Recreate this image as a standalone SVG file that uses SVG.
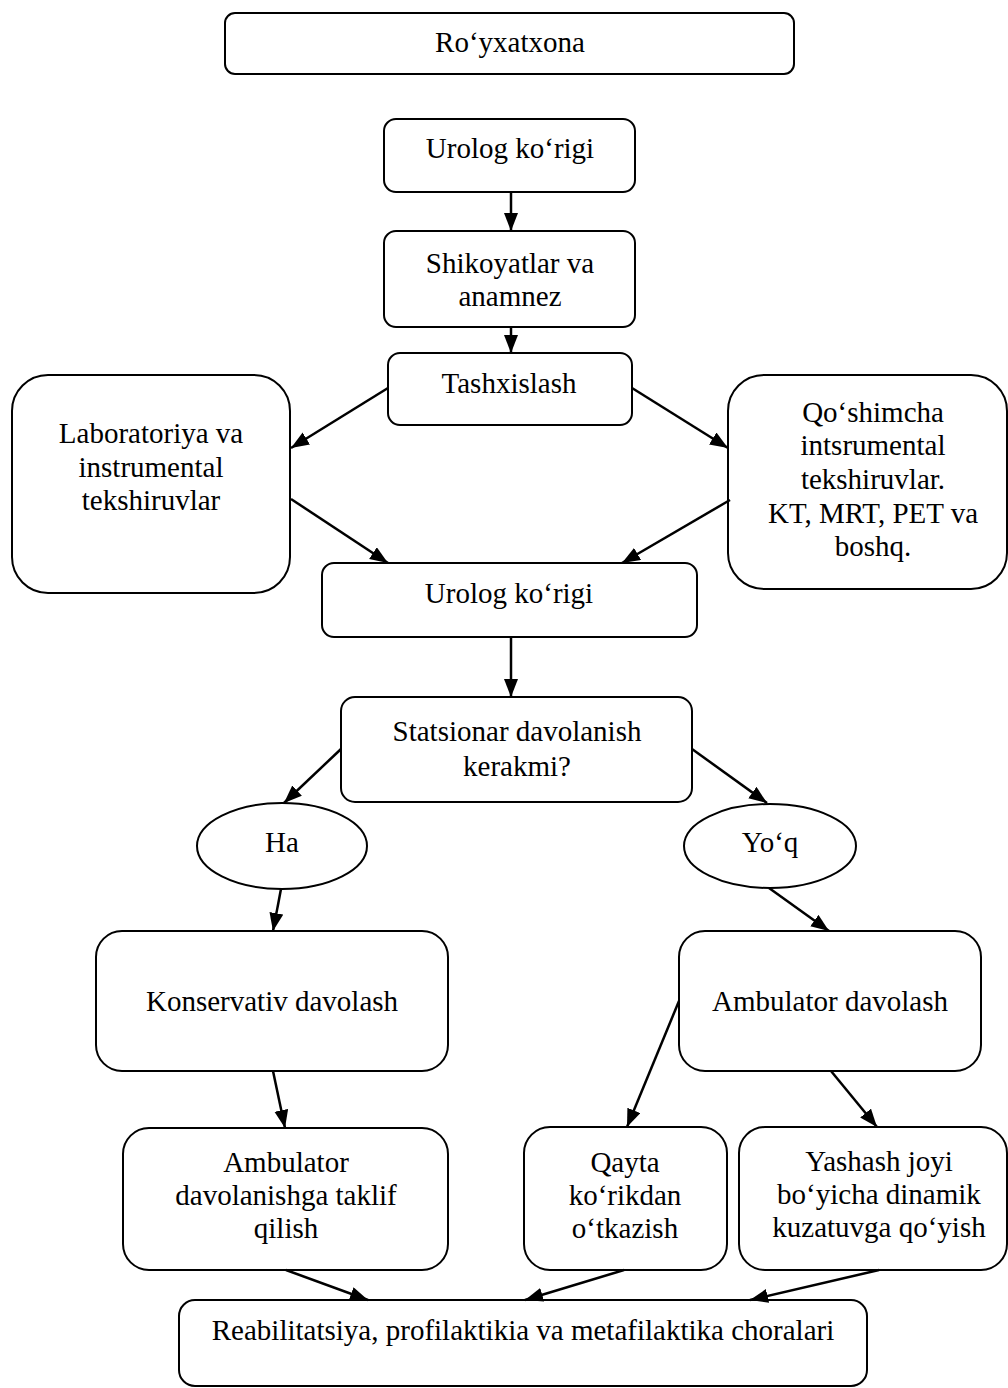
<svg xmlns="http://www.w3.org/2000/svg" width="1008" height="1388" viewBox="0 0 1008 1388">
<style>
.n{fill:#fff;stroke:#000;stroke-width:2}
.t{font-family:"Liberation Serif","Times New Roman",serif;font-size:29px;fill:#000;text-anchor:middle}
.c line{stroke:#000;stroke-width:2.5;marker-end:url(#ah)}
</style>
<defs>
<marker id="ah" markerUnits="userSpaceOnUse" markerWidth="20" markerHeight="16" refX="18" refY="7" orient="auto">
<path d="M0,0 L18,7 L0,14 z" fill="#000"/>
</marker>
</defs>
<rect width="1008" height="1388" fill="#fff"/>
<g id="royxatxona"><rect class="n" x="225" y="13" width="569" height="61" rx="10"/><text class="t" x="510" y="52">Ro‘yxatxona</text></g>
<g id="urolog1"><rect class="n" x="384" y="119" width="251" height="73" rx="12"/><text class="t" x="510" y="158">Urolog ko‘rigi</text></g>
<g id="shikoyat"><rect class="n" x="384" y="231" width="251" height="96" rx="12"/><text class="t" x="510" y="273">Shikoyatlar va</text><text class="t" x="510" y="306">anamnez</text></g>
<g id="tashxis"><rect class="n" x="388" y="353" width="244" height="72" rx="12"/><text class="t" x="509" y="393">Tashxislash</text></g>
<g id="lab"><rect class="n" x="12" y="375" width="278" height="218" rx="36"/><text class="t" x="151" y="443">Laboratoriya va</text><text class="t" x="151" y="477">instrumental</text><text class="t" x="151" y="510">tekshiruvlar</text></g>
<g id="qoshimcha"><rect class="n" x="728" y="375" width="279" height="214" rx="36"/><text class="t" x="873" y="422">Qo‘shimcha</text><text class="t" x="873" y="455">intsrumental</text><text class="t" x="873" y="489">tekshiruvlar.</text><text class="t" x="873" y="523">KT, MRT, PET va</text><text class="t" x="873" y="556">boshq.</text></g>
<g id="urolog2"><rect class="n" x="322" y="563" width="375" height="74" rx="12"/><text class="t" x="509" y="603">Urolog ko‘rigi</text></g>
<g id="statsionar"><rect class="n" x="341" y="697" width="351" height="105" rx="14"/><text class="t" x="517" y="741">Statsionar davolanish</text><text class="t" x="517" y="776">kerakmi?</text></g>
<g id="ha"><ellipse class="n" cx="282" cy="846" rx="85" ry="43"/><text class="t" x="282" y="852">Ha</text></g>
<g id="yoq"><ellipse class="n" cx="770" cy="846" rx="86" ry="42"/><text class="t" x="770" y="852">Yo‘q</text></g>
<g id="konservativ"><rect class="n" x="96" y="931" width="352" height="140" rx="26"/><text class="t" x="272" y="1011">Konservativ davolash</text></g>
<g id="ambulator"><rect class="n" x="679" y="931" width="302" height="140" rx="26"/><text class="t" x="830" y="1011">Ambulator davolash</text></g>
<g id="ambdav"><rect class="n" x="123" y="1128" width="325" height="142" rx="26"/><text class="t" x="286" y="1172">Ambulator</text><text class="t" x="286" y="1205">davolanishga taklif</text><text class="t" x="286" y="1238">qilish</text></g>
<g id="qayta"><rect class="n" x="524" y="1127" width="203" height="143" rx="26"/><text class="t" x="625" y="1172">Qayta</text><text class="t" x="625" y="1205">ko‘rikdan</text><text class="t" x="625" y="1238">o‘tkazish</text></g>
<g id="yashash"><rect class="n" x="739" y="1127" width="268" height="143" rx="26"/><text class="t" x="879" y="1171">Yashash joyi</text><text class="t" x="879" y="1204">bo‘yicha dinamik</text><text class="t" x="879" y="1237">kuzatuvga qo‘yish</text></g>
<g id="reab"><rect class="n" x="179" y="1300" width="688" height="86" rx="16"/><text class="t" x="523" y="1340">Reabilitatsiya, profilaktikia va metafilaktika choralari</text></g>
<g class="c" id="connectors">
<line x1="511" y1="192" x2="511" y2="231"/>
<line x1="511" y1="327" x2="511" y2="353"/>
<line x1="388" y1="388" x2="291" y2="448"/>
<line x1="632" y1="388" x2="728" y2="448"/>
<line x1="291" y1="499" x2="388" y2="563"/>
<line x1="730" y1="500" x2="622" y2="563"/>
<line x1="511" y1="637" x2="511" y2="697"/>
<line x1="341" y1="749" x2="284" y2="803"/>
<line x1="692" y1="749" x2="767" y2="803"/>
<line x1="281" y1="889" x2="273" y2="931"/>
<line x1="769" y1="888" x2="829" y2="931"/>
<line x1="273" y1="1071" x2="285" y2="1128"/>
<line x1="679" y1="1001" x2="627" y2="1127"/>
<line x1="831" y1="1071" x2="877" y2="1127"/>
<line x1="286" y1="1270" x2="368" y2="1300"/>
<line x1="624" y1="1270" x2="525" y2="1300"/>
<line x1="879" y1="1270" x2="750" y2="1300"/>
</g>
</svg>
